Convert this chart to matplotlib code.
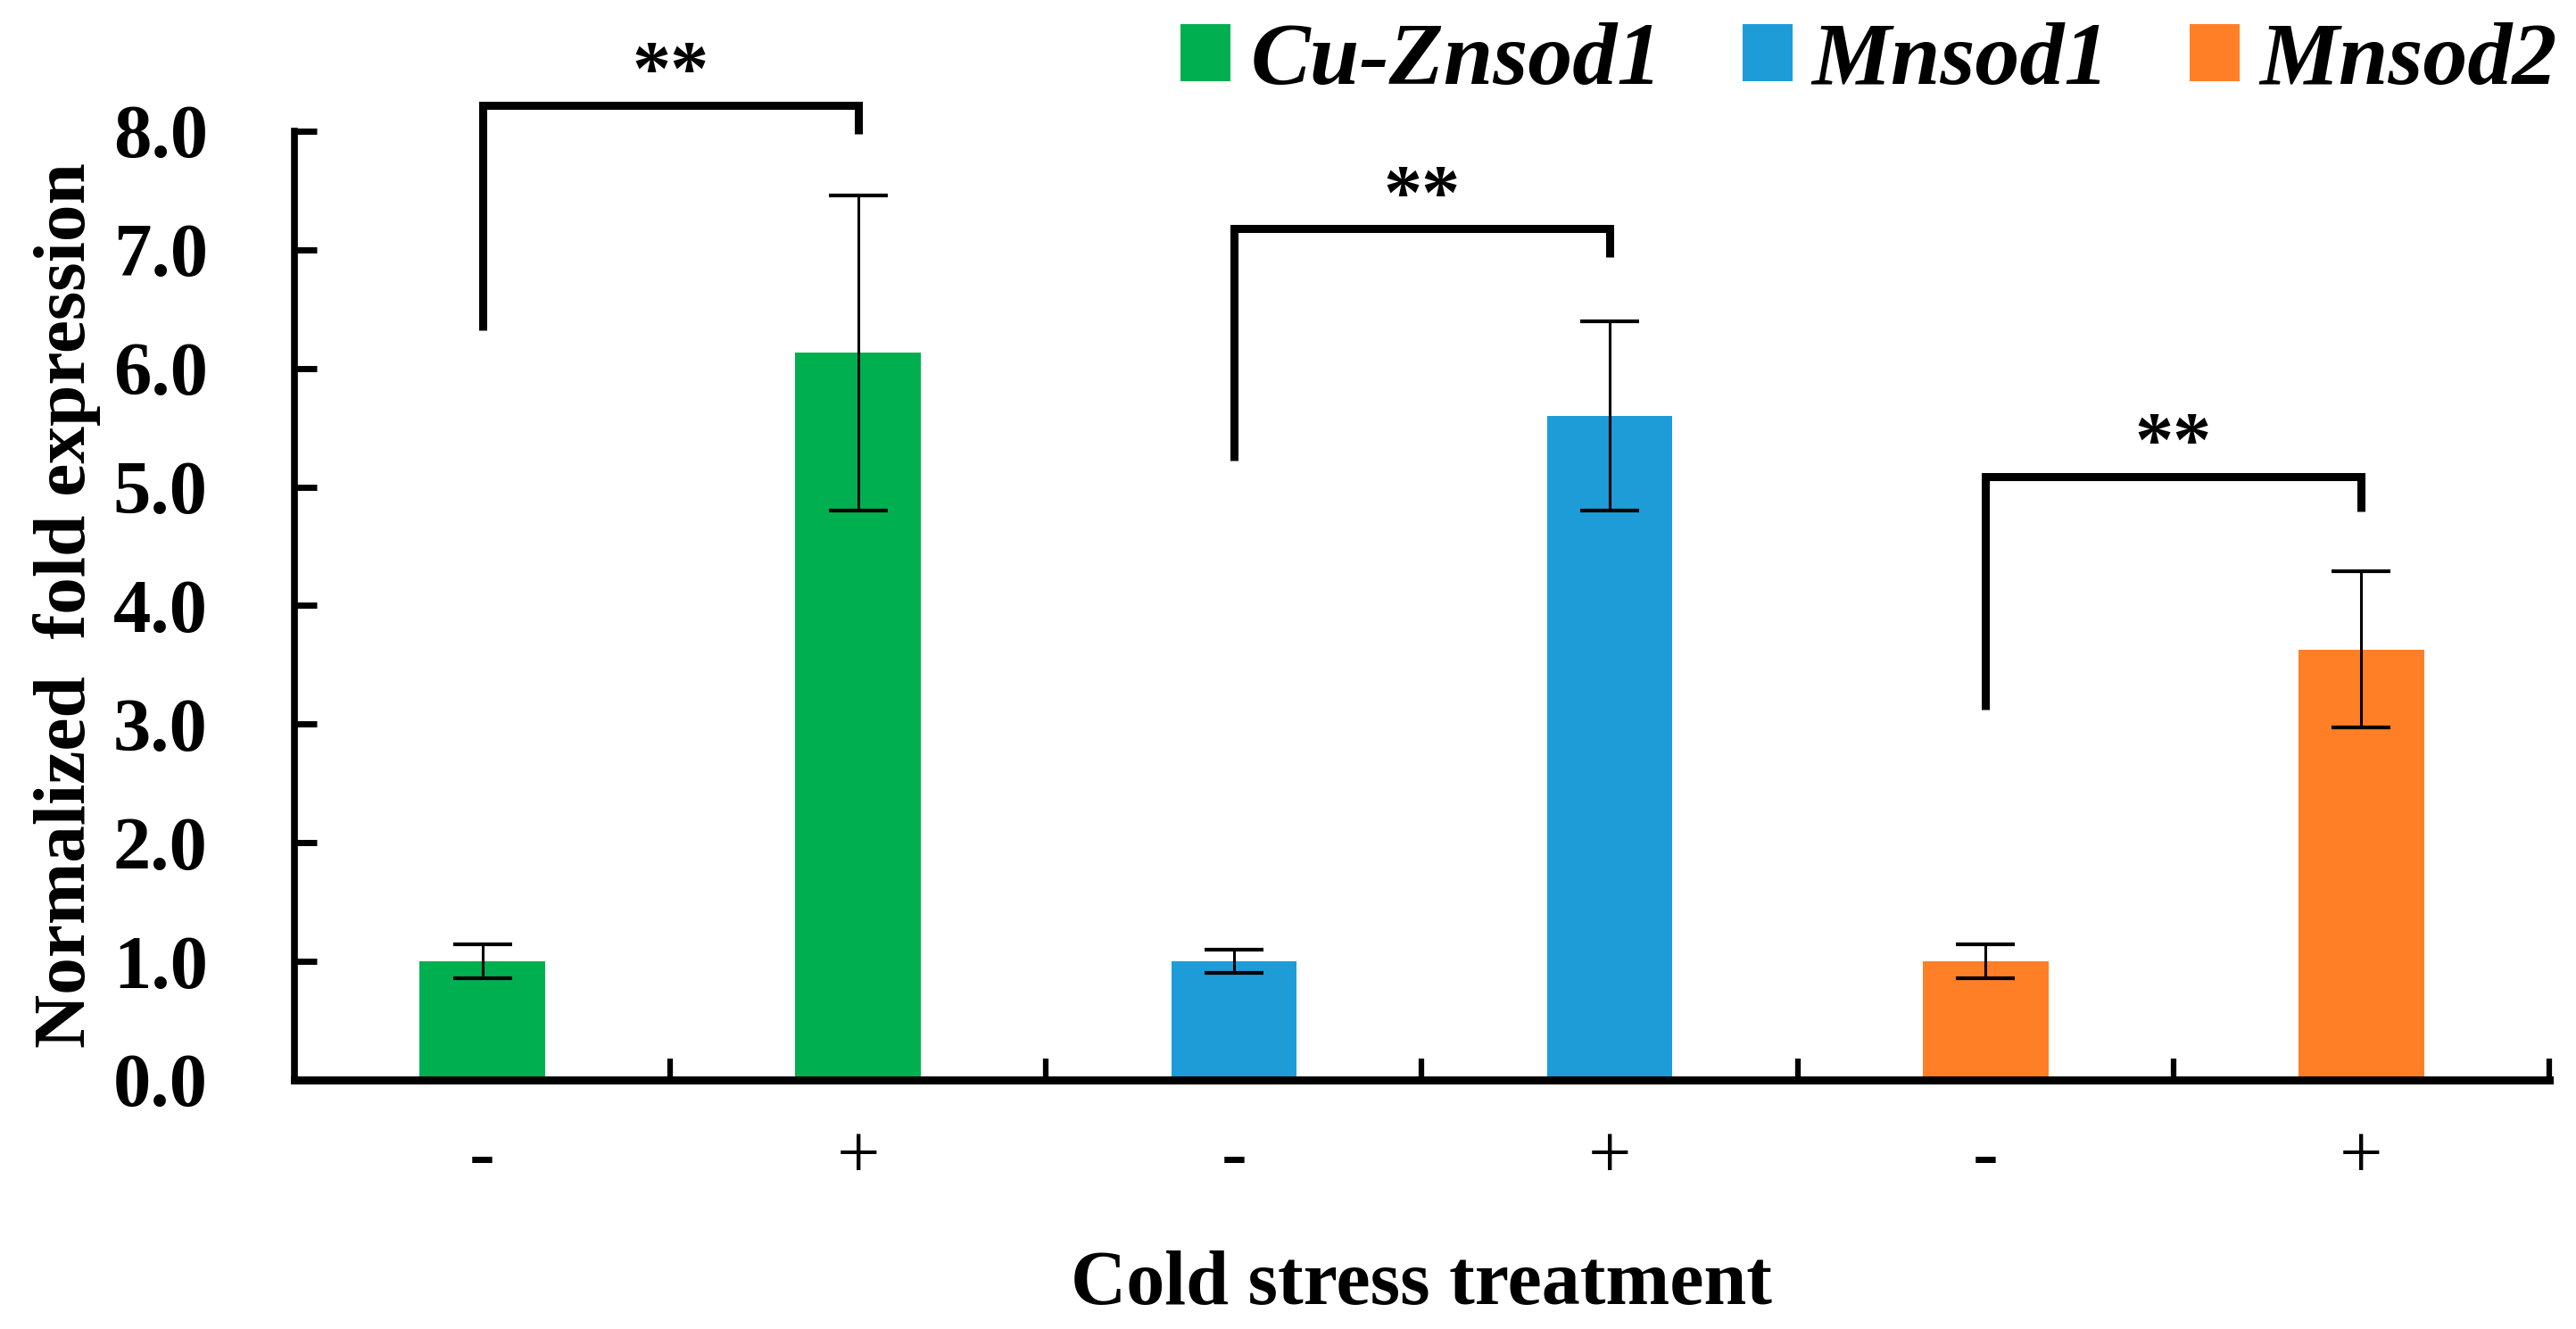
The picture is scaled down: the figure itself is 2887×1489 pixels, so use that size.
import numpy as np
import matplotlib
matplotlib.use("Agg")
import matplotlib.pyplot as plt

# ----------------------------
# DATA
# ----------------------------
genes = ["Cu-Znsod1", "Mnsod1", "Mnsod2"]
treatments = ["-", "+"]
colors = ["#00B050", "#1E9CD8", "#FF7F27"]

cuzn_mean = [1.00, 6.13]
cuzn_err = [0.14, 1.33]
mn1_mean = [1.00, 5.60]
mn1_err = [0.10, 0.80]
mn2_mean = [1.00, 3.63]
mn2_err = [0.14, 0.66]

means = [cuzn_mean, mn1_mean, mn2_mean]
errs = [cuzn_err, mn1_err, mn2_err]

# significance brackets: top of bracket, bottom of left leg, bottom of right leg
sig_top = [8.22, 7.18, 5.09]
sig_left = [6.32, 5.22, 3.12]
sig_right = [7.98, 6.94, 4.79]
sig_text = ["**", "**", "**"]

# ----------------------------
# PLOT
# ----------------------------
plt.rcParams["font.family"] = ["Liberation Serif", "DejaVu Serif"]

fig = plt.figure(figsize=(28.87, 14.89), dpi=100)
ax = fig.add_axes([0.1143, 0.1874, 0.8753, 0.7139])

handles = []
for g, gene in enumerate(genes):
    x = np.arange(2) + 2 * g + 0.5
    b = ax.bar(x, means[g], width=0.334, color=colors[g], label=gene, zorder=2)
    ax.errorbar(x, means[g], yerr=errs[g], fmt="none", ecolor="black",
                elinewidth=2.2, capsize=24, capthick=3, zorder=3)
    handles.append(b)

    # bracket
    xl, xr = x[0], x[1]
    ax.plot([xl, xl, xr, xr], [sig_left[g], sig_top[g], sig_top[g], sig_right[g]],
            color="black", lw=6.5, solid_joinstyle="miter", solid_capstyle="butt",
            clip_on=False, zorder=4)
    ax.text((xl + xr) / 2, sig_top[g] - 0.05, sig_text[g], ha="center", va="bottom",
            fontsize=62, fontweight="bold", clip_on=False)

ax.set_xlim(0, 6)
ax.set_ylim(0, 8)

# y axis
ax.set_yticks(np.arange(0, 9, 1))
ax.set_yticklabels([f"{v:.1f}" for v in np.arange(0, 9, 1)])
ax.tick_params(axis="y", direction="in", length=18, width=5, pad=70,
               labelsize=61)
for lbl in ax.get_yticklabels():
    lbl.set_fontweight("bold")

# x axis: major ticks at group borders, labels at bar centers
ax.set_xticks(np.arange(1, 7))
ax.set_xticklabels([])
ax.tick_params(axis="x", which="major", direction="in", length=17, width=4.5)
ax.set_xticks(np.arange(6) + 0.5, minor=True)
ax.set_xticklabels(treatments * 3, minor=True)
ax.tick_params(axis="x", which="minor", length=0, pad=36, labelsize=62)

for s in ["top", "right"]:
    ax.spines[s].set_visible(False)
ax.spines["left"].set_linewidth(5.5)
ax.spines["bottom"].set_linewidth(6.5)

ax.set_ylabel("Normalized  fold expression", fontsize=60, fontweight="bold")
ax.yaxis.set_label_coords(-0.086, 0.5)
ax.set_xlabel("Cold stress treatment", fontsize=62, fontweight="bold")
ax.xaxis.set_label_coords(0.5, -0.18)

leg = fig.legend(handles=handles, labels=genes, loc="upper right",
                 bbox_to_anchor=(0.9925, 0.983), ncol=3, frameon=False,
                 borderaxespad=0, borderpad=0,
                 prop={"size": 72, "weight": "bold", "style": "italic"},
                 handlelength=0.56, handleheight=0.6, handletextpad=0.22,
                 columnspacing=0.9)

fig.savefig("out.png", dpi=100)
